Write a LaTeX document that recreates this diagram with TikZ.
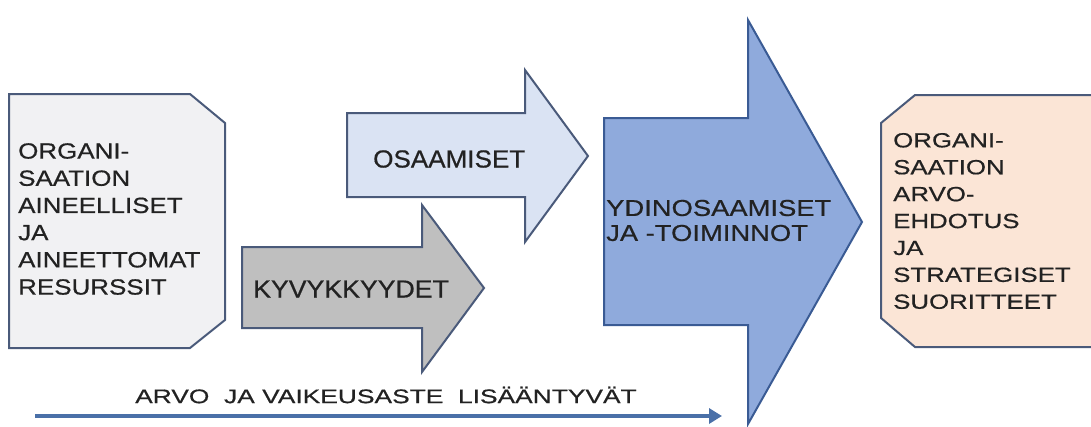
\documentclass[tikz,border=0pt]{standalone}
\usepackage{fontspec}
\setmainfont{Liberation Sans}
\newfontfamily\resfont[FakeStretch=1.18,FakeBold=0.6]{Liberation Sans}
\newfontfamily\osafont[FakeStretch=1.055,FakeBold=0.6]{Liberation Sans}
\newfontfamily\kyvfont[FakeStretch=1.08,FakeBold=0.6]{Liberation Sans}
\newfontfamily\ydinfont[FakeStretch=1.19,FakeBold=0.6]{Liberation Sans}
\newfontfamily\suofont[FakeStretch=1.26,FakeBold=0.6]{Liberation Sans}
\newfontfamily\trendfont[FakeStretch=1.345,FakeBold=0.6]{Liberation Sans}
\usetikzlibrary{arrows.meta}

\definecolor{edgeslate}{HTML}{4A5A7A}
\definecolor{edgeblue}{HTML}{3A5B94}
\definecolor{resfill}{HTML}{F1F1F3}
\definecolor{osafill}{HTML}{DAE3F3}
\definecolor{kyvfill}{HTML}{BFBFBF}
\definecolor{ydinfill}{HTML}{8FAADC}
\definecolor{suofill}{HTML}{FBE5D6}
\definecolor{trendblue}{HTML}{4A70A8}
\definecolor{inktext}{HTML}{222222}

\begin{document}
\begin{tikzpicture}[x=1pt,y=-1pt,
  shapebox/.style={draw=edgeslate, line width=2pt, line join=miter},
  lbl/.style={inner sep=0pt, text=inktext, anchor=west, align=left},
  trend/.style={draw=trendblue, line width=3.5pt, -{Triangle[length=13pt,width=15pt]}}]
\useasboundingbox (0,0) rectangle (1091,426);
\clip (0,0) rectangle (1091,426);

% resources box (chamfered on the right)
\draw[shapebox, fill=resfill]
  (9,94) -- (190,94) -- (225,123) -- (225,320) -- (190,348) -- (9,348) -- cycle;

% capabilities arrow
\draw[shapebox, fill=kyvfill]
  (242,247) -- (422,247) -- (422,205) -- (484,288) -- (422,372) -- (422,328) -- (242,328) -- cycle;

% competences arrow
\draw[shapebox, fill=osafill]
  (347,113) -- (525,113) -- (525,70) -- (588,156) -- (525,242) -- (525,197) -- (347,197) -- cycle;

% core competences arrow
\draw[shapebox, draw=edgeblue, fill=ydinfill]
  (604,118) -- (748,118) -- (748,20) -- (862,222) -- (748,424) -- (748,325) -- (604,325) -- cycle;

% outcome box (chamfered on the left)
\draw[shapebox, fill=suofill]
  (915,95) -- (1100,95) -- (1100,347) -- (915,347) -- (881,318) -- (881,123) -- cycle;

% labels
\node[lbl, font={\resfont\fontsize{22}{27.2}\selectfont}] (res) at (18,219)
  {ORGANI-\\SAATION\\AINEELLISET\\JA\\AINEETTOMAT\\RESURSSIT};
\node[lbl, font={\osafont\fontsize{24.7}{28}\selectfont}] (osa) at (373,159) {OSAAMISET};
\node[lbl, font={\kyvfont\fontsize{24.7}{28}\selectfont}] (kyv) at (253,289) {KYVYKKYYDET};
\node[lbl, font={\ydinfont\fontsize{23}{25}\selectfont}] (ydin) at (606,220.5)
  {YDINOSAAMISET\\JA -TOIMINNOT};
\node[lbl, font={\suofont\fontsize{20.5}{26.9}\selectfont}] (suo) at (893,221)
  {ORGANI-\\SAATION\\ARVO-\\EHDOTUS\\JA\\STRATEGISET\\SUORITTEET};
\node[lbl, font={\trendfont\fontsize{19.6}{22}\selectfont}] (trendtext) at (135,395)
  {ARVO\ \ JA VAIKEUSASTE\ \ LISÄÄNTYVÄT};

% value trend arrow
\coordinate (trendstart) at (35,416);
\coordinate (trendend) at (722,416);
\draw[trend] (trendstart) -- (trendend);
\end{tikzpicture}
\end{document}
